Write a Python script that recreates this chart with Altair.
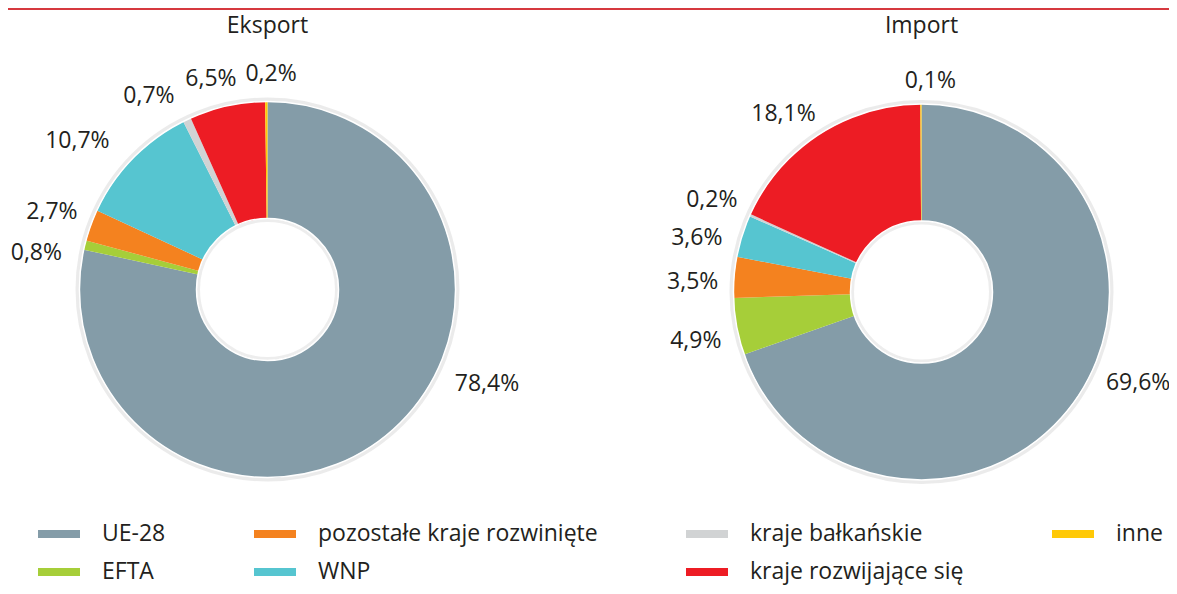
import math
import altair as alt
import pandas as pd

# ---- data ----
panels = ["Eksport", "Import"]
categories = ["UE-28", "EFTA", "pozostałe kraje rozwinięte", "WNP",
              "kraje bałkańskie", "kraje rozwijające się", "inne"]
eksport_values = [78.4, 0.8, 2.7, 10.7, 0.7, 6.5, 0.2]
import_values = [69.6, 4.9, 3.5, 3.6, 0.2, 18.1, 0.1]
colors = ["#849ca8", "#a6ce39", "#f4821f", "#56c5d0", "#d1d3d4", "#ed1c24", "#ffc907"]

rows = []
for panel, vals in zip(panels, [eksport_values, import_values]):
    for i, (c, v) in enumerate(zip(categories, vals)):
        rows.append({"panel": panel, "name": c, "idx": i, "value": v,
                     "label": f"{v:.1f}".replace(".", ",") + "%"})
df = pd.DataFrame(rows)
panel_df = pd.DataFrame({"panel": panels})
line_df = pd.DataFrame({"line": [0]})

FONT = "Open Sans"
TXT = "#231f20"
W, H = 1161, 578
R_OUT, R_IN = 188, 71

x_enc = alt.X("panel:N", axis=None,
              scale=alt.Scale(type="point", domain=panels, range=[259.5, 913.5], padding=0))
y_enc = alt.Y("panel:N", axis=None,
              scale=alt.Scale(type="point", domain=panels, range=[281.5, 284], padding=0))
theta_scale = alt.Scale(domain=[0, 100], range=[0, 2 * math.pi])

base = (alt.Chart(df)
        .transform_stack(stack="value", groupby=["panel"], as_=["start", "end"],
                         sort=[alt.SortField("idx", order="ascending")])
        .transform_calculate(mid="(datum.start + datum.end) / 2"))

legend = alt.Legend(
    title=None, orient="none", legendX=30, legendY=505, columns=4,
    columnPadding=88, rowPadding=5,
    symbolType="M-1,-0.19H1V0.19H-1Z", symbolSize=1764, symbolStrokeWidth=0,
    symbolOpacity=1, labelFont=FONT, labelFontSize=23, labelColor=TXT,
    labelOffset=22, labelLimit=400,
)

arcs = base.mark_arc(innerRadius=R_IN, outerRadius=R_OUT).encode(
    x=x_enc, y=y_enc,
    theta=alt.Theta("start:Q", scale=theta_scale, stack=None),
    theta2="end:Q",
    color=alt.Color("name:N", scale=alt.Scale(domain=categories, range=colors),
                    legend=legend),
)


def ring(radius, stroke, width, opacity=1.0):
    return alt.Chart(panel_df).mark_arc(
        theta=0, theta2=2 * math.pi, innerRadius=radius, outerRadius=radius,
        filled=False, stroke=stroke, strokeWidth=width, strokeOpacity=opacity,
    ).encode(x=x_enc, y=y_enc)


shadow_outer = ring(R_OUT + 2, "#9a9a9a", 4, 0.2)
shadow_inner = ring(R_IN - 2, "#9a9a9a", 3, 0.18)
white_outer = ring(R_OUT, "white", 1.5)
white_inner = ring(R_IN, "white", 1.5)

text_style = dict(font=FONT, fontSize=23, color=TXT, align="center", baseline="middle")

# label placement (Excel-like spread of the data labels): angle nudge in degrees, distance
label_place = [
    ("Eksport", "UE-28", -27.8, 239),
    ("Eksport", "EFTA", -4.7, 234),
    ("Eksport", "pozostałe kraje rozwinięte", -0.2, 229),
    ("Eksport", "WNP", -6.2, 241),
    ("Eksport", "kraje bałkańskie", -6.1, 227),
    ("Eksport", "kraje rozwijające się", -2.6, 218),
    ("Eksport", "inne", 1.3, 216),
    ("Import", "UE-28", -12.5, 235),
    ("Import", "EFTA", -1.7, 231),
    ("Import", "pozostałe kraje rozwinięte", -2.0, 229),
    ("Import", "WNP", -3.8, 231),
    ("Import", "kraje bałkańskie", -0.4, 229),
    ("Import", "kraje rozwijające się", -4.9, 225),
    ("Import", "inne", 2.6, 211),
]

label_layers = []
for panel, name, dtheta, rad in label_place:
    label_layers.append(
        base.transform_filter(
            f"datum.panel == '{panel}' && datum.name == '{name}'"
        ).mark_text(thetaOffset=math.radians(dtheta), **text_style).encode(
            x=x_enc, y=y_enc,
            theta=alt.Theta("mid:Q", scale=theta_scale, stack=None),
            radius=alt.value(rad),
            text="label:N",
        )
    )

titles = alt.Chart(panel_df).mark_text(**text_style).encode(
    x=x_enc, y=alt.value(18), text="panel:N",
)

top_line = alt.Chart(line_df).mark_rule(color="#d6393f", strokeWidth=2).encode(
    x=alt.value(0), x2=alt.value(W), y=alt.value(1),
)

chart = alt.layer(
    shadow_outer, shadow_inner, arcs, white_outer, white_inner,
    *label_layers, titles, top_line,
).properties(
    width=W, height=H, padding=0,
    autosize=alt.AutoSizeParams(type="none"),
    background="white",
).configure_view(stroke=None)

chart.save("out.html", embed_options={"renderer": "svg", "actions": False})
